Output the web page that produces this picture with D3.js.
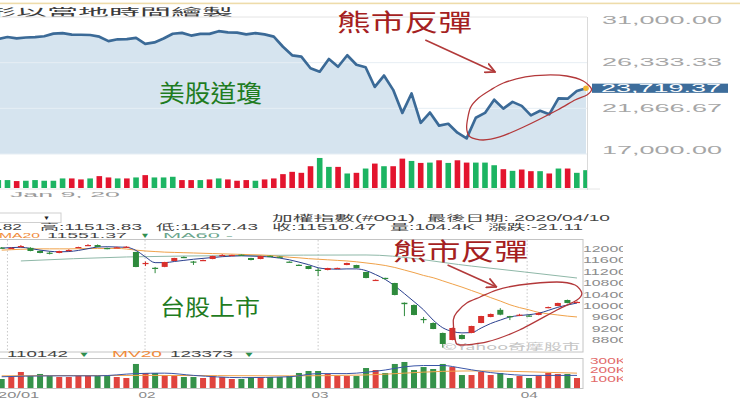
<!DOCTYPE html>
<html><head><meta charset="utf-8">
<script src="https://cdn.jsdelivr.net/npm/d3@7"></script>
<style>html,body{margin:0;padding:0;background:#fff;}svg{display:block;}</style>
</head><body>
<svg id="c" width="740" height="409"></svg>
<script>
// ---------------- DATA: Dow Jones (top) ----------------
const dowDays = ["1/8","1/9","1/10","1/13","1/14","1/15","1/16","1/17","1/21","1/22","1/23","1/24","1/27","1/28","1/29","1/30","1/31","2/3","2/4","2/5","2/6","2/7","2/10","2/11","2/12","2/13","2/14","2/18","2/19","2/20","2/21","2/24","2/25","2/26","2/27","2/28","3/2","3/3","3/4","3/5","3/6","3/9","3/10","3/11","3/12","3/13","3/16","3/17","3/18","3/19","3/20","3/23","3/24","3/25","3/26","3/27","3/30","3/31","4/1","4/2","4/3","4/6","4/7","4/8","4/9"];
const dowClose = [28745,28956,28823,28907,28940,29030,29298,29348,29196,29186,29160,28990,28535,28723,28734,28859,28256,28400,28807,29291,29380,29103,29276,29277,29551,29424,29398,29232,29348,29219,28992,27961,27081,26957,25766,25409,26703,25917,27091,26121,25865,23851,25018,23553,21200,23186,20189,21237,19899,20087,19174,18592,20705,21200,22552,21637,22327,21917,20944,21413,21053,22680,22654,23434,23719.37];
const dowVolume = [240,240,210,220,240,220,220,290,290,260,290,360,320,290,290,320,390,320,320,340,240,240,240,260,290,260,220,240,220,260,290,420,490,460,660,910,640,640,440,460,590,740,660,660,890,820,760,770,840,760,840,770,770,770,690,570,520,560,510,510,440,590,590,460,540];
const dowVolDir = ["g","g","r","g","g","g","g","g","r","r","g","r","r","g","r","g","r","g","g","g","r","r","g","r","g","r","r","r","g","r","r","r","r","r","r","g","g","r","g","r","g","r","g","r","r","g","r","g","r","g","r","r","g","g","g","r","g","r","r","g","r","g","r","g","g"];
const dowTicks = [31000, 26333.33, 21666.67, 17000];
const dowDateTick = {label: "Jan 9, 20", index: 1};

// ---------------- DATA: TAIEX (bottom) ----------------
const twOpen  = [12050,12020,12095,12040,11930,11870,11860,11950,12040,12130,12140,12035,12040,12060,11895,11490,11340,11370,11578,11720,11560,11600,11648,11780,11785,11800,11684,11648,11760,11730,11555,11445,11402,11270,11262,11325,11437,11437,11191,10900,10985,10805,10110,10030,9540,9398,9047,8800,8976,9047,9398,9609,9860,9640,9670,9660,9680,9926,9996,10207,10120];
const twHigh  = [12070,12060,12140,12060,11950,11920,11940,11990,12080,12170,12160,12050,12080,12100,11900,11560,11370,11550,11690,11740,11580,11630,11760,11820,11800,11810,11690,11760,11770,11740,11565,11460,11410,11330,11340,11345,11520,11445,11200,10930,10990,10810,10120,10050,9610,9420,9060,9240,9000,9300,9650,9730,9920,9650,9720,9700,9770,9975,10110,10220,10160];
const twLow   = [12020,12010,12070,11920,11850,11810,11850,11940,12030,12120,12060,11990,12030,12050,11360,11400,11150,11360,11570,11680,11440,11590,11640,11760,11770,11770,11600,11640,11740,11700,11530,11420,11290,11050,11250,11315,11430,11320,10970,10880,10930,10370,9640,9670,9390,9180,8530,8790,8820,9040,9390,9600,9670,9500,9640,9620,9670,9915,9990,10090,10110];
const twClose = [12030,12040,12105,11930,11860,11860,11930,11965,12070,12140,12070,12000,12060,12080,11367,11510,11330,11543,11684,11700,11540,11613,11754,11790,11792,11785,11613,11754,11754,11715,11543,11437,11297,11262,11332,11335,11508,11332,10980,10915,10945,10383,10060,9680,9500,9187,8660,9222,8836,9293,9644,9715,9690,9610,9690,9640,9750,9960,10102,10102,10140];
const twVolume = [100,122,178,133,156,133,122,122,133,144,133,133,122,111,267,167,167,144,133,122,122,111,133,122,100,100,122,122,122,122,133,167,189,189,156,133,133,133,222,200,167,267,289,200,233,211,267,233,144,144,178,144,167,111,133,111,133,167,156,156,111];
const twMA5  = [12030,12050,12060,12020,11960,11920,11900,11910,11950,12010,12070,12080,12070,12060,11950,11720,11520,11520,11560,11600,11640,11670,11700,11730,11750,11760,11750,11740,11720,11680,11620,11540,11450,11340,11300,11290,11300,11300,11240,11100,10930,10700,10430,10150,9860,9500,9230,9100,9050,9060,9220,9380,9500,9610,9660,9690,9740,9840,9950,10030,10100];
const twMA20 = [11960,11975,11990,12000,12005,12005,12005,12005,12010,12015,12020,12020,12020,12000,11960,11930,11910,11890,11880,11870,11860,11850,11840,11830,11820,11810,11800,11790,11770,11740,11710,11690,11660,11640,11620,11600,11580,11550,11510,11470,11420,11350,11260,11170,11070,10990,10880,10770,10660,10540,10420,10290,10170,10040,9940,9860,9770,9720,9680,9640,9610];
const twMA60 = [[2,11580],[13,11720],[25,11770],[38,11790],[49,11400],[60,10980]];
const twMV5  = [[0,125],[5,135],[10,135],[14,160],[17,165],[20,140],[25,115],[30,125],[33,160],[36,160],[38,175],[40,200],[42,235],[44,250],[46,250],[48,220],[50,185],[52,160],[55,140],[58,140],[60,140]];
const twMV20 = [[0,135],[15,140],[30,135],[38,145],[42,165],[46,185],[50,190],[55,180],[60,165]];
const twPriceTicks = [12000,11600,11200,10800,10400,10000,9600,9200,8800];
const twVolTicks = [300,200,100];
const twMonths = [{label:"2020/01", at:0.6},{label:"02", at:14.95},{label:"03", at:33},{label:"04", at:54.8}];

// annotations (data coordinates)
const topLoop = [[51.4,21700],[52.3,22720],[53.6,23540],[55.0,24255],[57.4,24870],[59.6,25070],[61.9,24970],[63.7,24460],[64.6,23640],[64.1,23030],[62.8,22520],[60.9,21500],[57.2,19760],[54.6,18740],[52.8,18430],[51.4,18740],[51.0,19760]];
const topArrow = [[46.5,28650],[54.1,25380]];
const botLoop = [[47.5,9785],[48.5,10101],[49.9,10312],[51.6,10558],[54.0,10734],[57.9,10840],[59.8,10734],[60.5,10453],[60.0,10207],[57.9,9855],[54.0,9152],[50.6,8730],[47.8,8625],[47.3,8800],[47.1,9504]];
const botArrow = [[46.5,11437],[51.6,10664]];

// ---------------- DRAW ----------------
const LAT = "'Liberation Sans', Arial, sans-serif";
const CJK = "'Noto Sans CJK TC', 'Noto Sans CJK SC', sans-serif";
const MIX = "'Liberation Sans', 'Noto Sans CJK TC', sans-serif";
const svg = d3.select("#c");
const defs = svg.append("defs");
defs.append("clipPath").attr("id","clipTop").append("rect").attr("x",0).attr("y",0).attr("width",587.5).attr("height",200);
defs.append("clipPath").attr("id","clipBot").append("rect").attr("x",0).attr("y",200).attr("width",623).attr("height",209);
const mk = defs.append("marker").attr("id","arr").attr("viewBox","0 0 10 10").attr("refX",9).attr("refY",5)
  .attr("markerWidth",11).attr("markerHeight",11).attr("markerUnits","userSpaceOnUse").attr("orient","auto");
mk.append("path").attr("d","M0,0.5 L9,5 L0,9.5").attr("fill","none").attr("stroke","#b23a3a").attr("stroke-width",1.6);

function txt(g, s, x, y, size, len, fill, family) {
  const t = g.append("text").attr("x",x).attr("y",y).attr("font-size",size)
    .attr("font-family", family || LAT).attr("fill",fill).text(s);
  if (len) t.attr("textLength",len).attr("lengthAdjust","spacingAndGlyphs");
  return t;
}

// ===== TOP PANEL =====
const topG = svg.append("g");
const xT = d3.scaleLinear().domain([0, dowClose.length-1]).range([-1.7, 586]);
const yT = d3.scaleLinear().domain([17000, 31000]).range([154, 17]);
const yTV = d3.scaleLinear().domain([0, 1000]).range([188, 155]);

topG.append("rect").attr("x",0).attr("y",2.6).attr("width",740).attr("height",1.6).attr("fill","#eedcaa");
txt(topG, "形以當地時間繪製", -15, 15.8, 10.5, 248, "#3a3a3a", CJK);

const tp = topG.append("g").attr("clip-path","url(#clipTop)");
tp.append("path").datum(dowClose)
  .attr("d", d3.area().x((d,i)=>xT(i)).y0(yT(17000)).y1(d=>yT(d)))
  .attr("fill","#d6e4ef");
dowTicks.forEach(v=>{
  tp.append("line").attr("x1",0).attr("x2",587).attr("y1",yT(v)).attr("y2",yT(v))
    .attr("stroke", v===31000 ? "#e4e4e4" : "#e6eef4").attr("stroke-width",1);
});
tp.append("path").datum(dowClose)
  .attr("d", d3.line().x((d,i)=>xT(i)).y(d=>yT(d)))
  .attr("fill","none").attr("stroke","#3b6a97").attr("stroke-width",2.7).attr("stroke-linejoin","round");
tp.selectAll("rect.v").data(dowVolume).join("rect").attr("class","v")
  .attr("x",(d,i)=>xT(i)-2.8).attr("width",5.6)
  .attr("y",d=>yTV(d)).attr("height",d=>yTV(0)-yTV(d))
  .attr("fill",(d,i)=>dowVolDir[i]==="g" ? "#1cb462" : "#e3142e");
topG.append("line").attr("x1",0).attr("x2",600).attr("y1",189).attr("y2",189).attr("stroke","#e6e6e6");
topG.append("line").attr("x1",587.5).attr("x2",587.5).attr("y1",17).attr("y2",190).attr("stroke","#dadada");
const fmt = d3.format(",.2f");
dowTicks.forEach(v=>{
  const cy = Math.max(20, Math.min(150, yT(v)));
  txt(topG, fmt(v), 602, cy+3.6, 10, 120, "#a6a6a6");
});
const last = dowClose[dowClose.length-1];
topG.append("rect").attr("x",592).attr("y",yT(last)-4.6).attr("width",136).attr("height",9.2).attr("fill","#3d6d9b");
txt(topG, fmt(last), 601, yT(last)+3.6, 10, 120, "#ffffff");
topG.append("circle").attr("cx",xT(dowClose.length-1)).attr("cy",yT(last)).attr("r",2.8).attr("fill","#f2b632");
txt(topG, dowDateTick.label, xT(dowDateTick.index)+2.5, 197.3, 8, 110, "#9a9a9a");

// top annotations
txt(topG, "美股道瓊", 159, 102, 24, 103, "#1f7c1f", CJK);
txt(topG, "熊市反彈", 337, 30.5, 24, 135, "#a51f22", CJK);
topG.append("path").datum(topLoop)
  .attr("d", d3.line().x(d=>xT(d[0])).y(d=>yT(d[1])).curve(d3.curveCardinalClosed.tension(0.2)))
  .attr("fill","none").attr("stroke","#b3383a").attr("stroke-width",1.3);
topG.append("line").attr("x1",xT(topArrow[0][0])).attr("y1",yT(topArrow[0][1]))
  .attr("x2",xT(topArrow[1][0])).attr("y2",yT(topArrow[1][1]))
  .attr("stroke","#b23a3a").attr("stroke-width",1.6).attr("marker-end","url(#arr)");

// ===== BOTTOM PANEL =====
const bot = svg.append("g").attr("clip-path","url(#clipBot)");
const xB = d3.scaleLinear().domain([0, twClose.length-1]).range([1.7, 577]);
const yB = d3.scaleLinear().domain([8800, 12000]).range([340, 249]);
const yBV = d3.scaleLinear().domain([0, 300]).range([388, 361]);

// header
bot.append("rect").attr("x",-1).attr("y",213).attr("width",62).attr("height",9.5).attr("fill","#fff").attr("stroke","#cfcfcf");
txt(bot, "▼", 43, 220.3, 6, 7, "#222");
txt(bot, "加權指數(#001)", 272, 220.5, 8.5, 143, "#444", MIX);
txt(bot, "最後日期: 2020/04/10", 427, 220.5, 8.5, 183, "#444", MIX);
txt(bot, "開:11526.82", -71, 229.8, 8.2, 93, "#444", MIX);
txt(bot, "高:11513.83", 40, 229.8, 8.2, 102, "#444", MIX);
txt(bot, "低:11457.43", 156, 229.8, 8.2, 102, "#444", MIX);
txt(bot, "收:11510.47", 272, 229.8, 8.2, 104, "#444", MIX);
txt(bot, "量:104.4K", 390, 229.8, 8.2, 85, "#444", MIX);
txt(bot, "漲跌:-21.11", 488, 229.8, 8.2, 95, "#444", MIX);
txt(bot, "MA20", -1, 238, 8, 41, "#f08a3a");
txt(bot, "11551.37", 47, 238, 8, 80, "#444");
txt(bot, "▼", 140, 238, 7.5, 10, "#2f8f4f");
txt(bot, "MA60 -", 163, 238, 8, 70, "#6aa58c");

// price box
bot.append("rect").attr("x",-1).attr("y",239.5).attr("width",584).attr("height",112.5).attr("fill","none").attr("stroke","#c4c4c4");
twMonths.forEach(m=>{
  bot.append("line").attr("x1",xB(m.at)).attr("x2",xB(m.at)).attr("y1",240).attr("y2",352)
    .attr("stroke","#c8c8c8").attr("stroke-dasharray","1.5,2");
  txt(bot, m.label, xB(m.at) - m.label.length*8.5/2 + 2, 398, 8.5, m.label.length*8.5, "#8a8a8a");
});
txt(bot, "©Yahoo奇摩股市", 442, 350, 9, 138, "#c4c4c4", CJK);

const maLine = d3.line().x((d,i)=>xB(i)).y(d=>yB(d)).curve(d3.curveMonotoneX);
const pairLine = (ys)=>d3.line().x(d=>xB(d[0])).y(d=>ys(d[1])).curve(d3.curveMonotoneX);
bot.append("path").datum(twMA60).attr("d", pairLine(yB)).attr("fill","none").attr("stroke","#8fb8a8").attr("stroke-width",1);
bot.append("path").datum(twMA20).attr("d", maLine).attr("fill","none").attr("stroke","#f0a24a").attr("stroke-width",1);
bot.append("path").datum(twMA5).attr("d", maLine).attr("fill","none").attr("stroke","#2a3f8e").attr("stroke-width",1);

const up = i => twClose[i] >= twOpen[i];
const cg = bot.append("g");
twClose.forEach((c,i)=>{
  const col = up(i) ? "#d8302c" : "#2e8a3c";
  cg.append("line").attr("x1",xB(i)).attr("x2",xB(i)).attr("y1",yB(twHigh[i])).attr("y2",yB(twLow[i]))
    .attr("stroke",col).attr("stroke-width",1);
  const y1 = yB(Math.max(twOpen[i], c)), y2 = yB(Math.min(twOpen[i], c));
  cg.append("rect").attr("x",xB(i)-3).attr("width",6).attr("y",y1).attr("height",Math.max(1.2, y2-y1)).attr("fill",col);
});

// volume
txt(bot, "110142", 7, 357.3, 8.2, 61, "#444");
txt(bot, "▼", 78, 357.3, 7.5, 12, "#2f8f4f");
txt(bot, "MV20", 112, 357.3, 8.2, 50, "#f08a3a");
txt(bot, "123373", 170, 357.3, 8.2, 63, "#444");
txt(bot, "▼", 243, 357.3, 7.5, 12, "#2f8f4f");
bot.append("rect").attr("x",-1).attr("y",358.5).attr("width",584).attr("height",30).attr("fill","none").attr("stroke","#c4c4c4");
bot.selectAll("rect.vb").data(twVolume).join("rect").attr("class","vb")
  .attr("x",(d,i)=>xB(i)-3).attr("width",6)
  .attr("y",d=>yBV(d)).attr("height",d=>yBV(0)-yBV(d))
  .attr("fill",(d,i)=>up(i) ? "#e0443e" : "#35924a");
bot.append("path").datum(twMV20).attr("d", pairLine(yBV)).attr("fill","none").attr("stroke","#f0a24a").attr("stroke-width",1);
bot.append("path").datum(twMV5).attr("d", pairLine(yBV)).attr("fill","none").attr("stroke","#3a56a8").attr("stroke-width",1);

// right axis labels
twPriceTicks.forEach(v=>{
  const s = String(v), len = s.length*8.8;
  txt(bot, s, 627 - len, yB(v)+3, 8.5, len, "#8c8c8c");
});
twVolTicks.forEach(v=>{
  const s = v + "K", len = s.length*9;
  txt(bot, s, 626 - len, yBV(v)+3, 8.5, len, "#e26a6a");
});

// bottom annotations
txt(bot, "台股上市", 160, 314.5, 22, 100, "#1f7c1f", CJK);
txt(bot, "熊市反彈", 393, 260, 24, 135, "#a51f22", CJK);
bot.append("path").datum(botLoop)
  .attr("d", d3.line().x(d=>xB(d[0])).y(d=>yB(d[1])).curve(d3.curveCardinalClosed.tension(0.2)))
  .attr("fill","none").attr("stroke","#b3383a").attr("stroke-width",1.3);
bot.append("line").attr("x1",xB(botArrow[0][0])).attr("y1",yB(botArrow[0][1]))
  .attr("x2",xB(botArrow[1][0])).attr("y2",yB(botArrow[1][1]))
  .attr("stroke","#b23a3a").attr("stroke-width",1.6).attr("marker-end","url(#arr)");
</script>
</body></html>
